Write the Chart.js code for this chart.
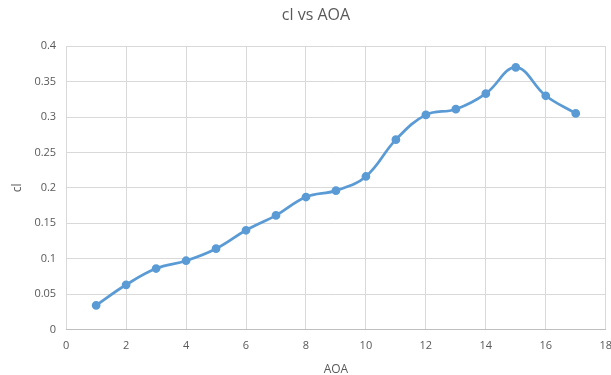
<!DOCTYPE html>
<html>
<head>
<meta charset="utf-8">
<script src="https://cdn.jsdelivr.net/npm/chart.js@4"></script>
<style>
  html, body { margin: 0; padding: 0; background: #fff; overflow: hidden; }
  #wrap { width: 622px; height: 377px; }
</style>
</head>
<body>
<div id="wrap"><canvas id="myChart"></canvas></div>
<script>
const aoa = [1, 2, 3, 4, 5, 6, 7, 8, 9, 10, 11, 12, 13, 14, 15, 16, 17]
const cl = [0.034, 0.063, 0.086, 0.097, 0.114, 0.140, 0.161, 0.187, 0.196, 0.216, 0.268, 0.303, 0.311, 0.333, 0.370, 0.330, 0.305]

const xTicks = [0, 2, 4, 6, 8, 10, 12, 14, 16, 18]
const yTicks = [0, 0.05, 0.1, 0.15, 0.2, 0.25, 0.3, 0.35, 0.4]

Chart.defaults.font.family = "'Open Sans', 'Liberation Sans', sans-serif"
Chart.defaults.color = '#595959'

const points = aoa.map((a, i) => ({ x: a, y: cl[i] }))

const config = {
  type: 'line',
  data: {
    datasets: [{
      label: 'cl',
      data: points,
      borderColor: '#5b9bd5',
      backgroundColor: '#5b9bd5',
      borderWidth: 2.75,
      pointRadius: 3,
      pointHoverRadius: 3,
      tension: 0.4,
      fill: false
    }]
  },
  options: {
    responsive: true,
    maintainAspectRatio: false,
    animation: false,
    layout: { padding: { left: 10, right: 0, top: 4, bottom: 0 } },
    plugins: {
      legend: { display: false },
      tooltip: { enabled: false },
      title: {
        display: true,
        text: 'cl vs AOA',
        color: '#595959',
        font: { size: 16, weight: 'normal' },
        padding: { top: 2, bottom: 21 }
      }
    },
    scales: {
      x: {
        type: 'linear',
        min: 0,
        max: 18,
        afterBuildTicks: s => { s.ticks = xTicks.map(v => ({ value: v })) },
        ticks: { color: '#595959', font: { size: 11 }, padding: 10 },
        grid: { color: '#d9d9d9', lineWidth: 1, drawTicks: false },
        border: { color: '#bfbfbf' },
        title: { display: true, text: 'AOA', color: '#595959', font: { size: 12 }, padding: { top: 0, bottom: 0 } }
      },
      y: {
        min: 0,
        max: 0.4,
        afterBuildTicks: s => { s.ticks = yTicks.map(v => ({ value: v })) },
        ticks: {
          color: '#595959',
          font: { size: 11 },
          padding: 10,
          callback: v => String(Math.round(v * 100) / 100)
        },
        grid: { color: '#d9d9d9', lineWidth: 1, drawTicks: false },
        border: { display: false },
        title: { display: true, text: 'cl', color: '#595959', font: { size: 12 }, padding: { top: 0, bottom: 0 } }
      }
    }
  }
}

const chart = new Chart(document.getElementById('myChart'), config)
</script>
</body>
</html>
